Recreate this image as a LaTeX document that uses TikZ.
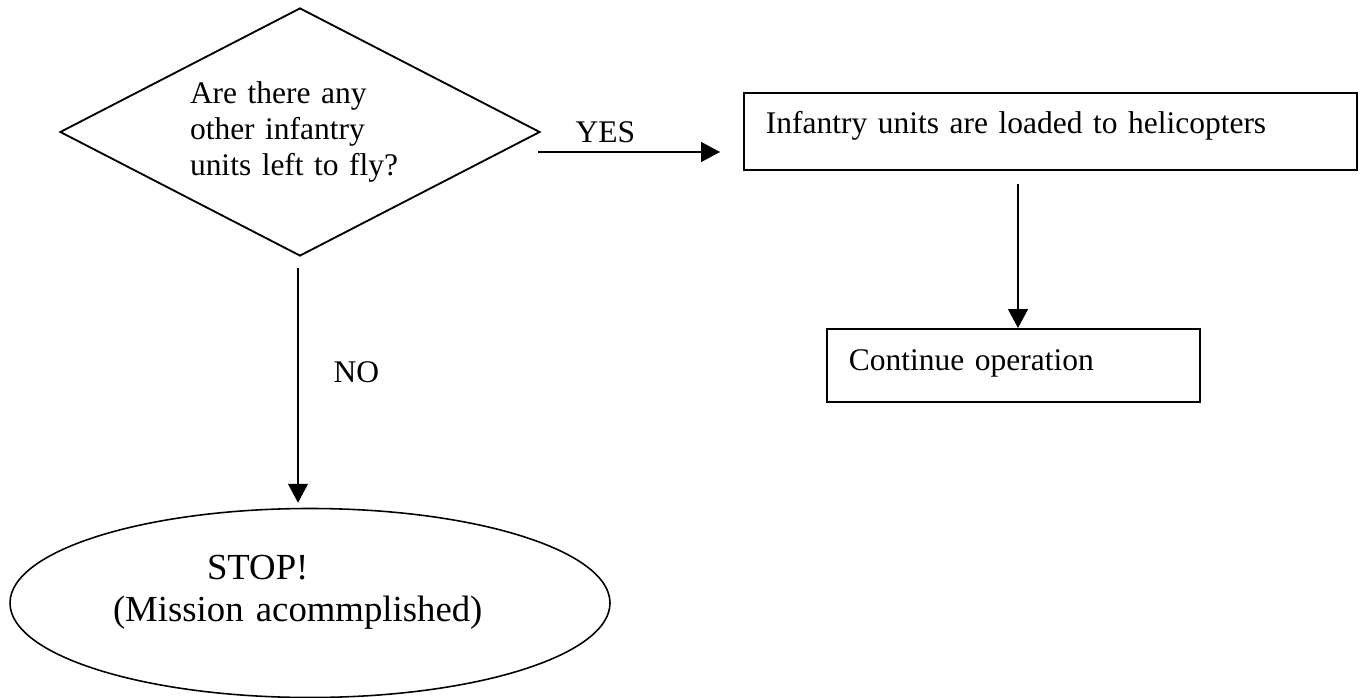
\documentclass[tikz,border=0pt]{standalone}
\usepackage{fontspec}
\setmainfont{Liberation Serif}
\usetikzlibrary{shapes.geometric,arrows.meta,calc}
% one drawing unit
\newdimen\pxu \pxu=0.381pt
\begin{document}
\begin{tikzpicture}[x=0.381pt,y=-0.381pt,
  every node/.style={font=\fontsize{12}{13.7}\selectfont},
  outline/.style={draw, line width=0.7pt},
  decision/.style={outline, diamond, aspect=1.935, minimum width=480\pxu,
    minimum height=248\pxu, inner sep=0pt, align=left, text width=220\pxu},
  actionbox/.style={outline, rectangle, inner ysep=0pt, inner xsep=22\pxu,
    align=left, anchor=north west},
  terminal/.style={draw, line width=0.6pt, ellipse, minimum width=600\pxu,
    minimum height=189\pxu, inner sep=0pt, align=left, text width=394\pxu,
    font=\fontsize{14}{16}\selectfont},
  flow/.style={line width=0.45pt, -{Triangle[length=7.2pt,width=7.6pt]}},
  tag/.style={anchor=base west, inner sep=0pt}
]
\useasboundingbox (0,0) rectangle (1362,698);

% decision
\node[decision] (dec) at (300,132)
  {Are there any\\ other infantry\\ units left to fly?};

% actions
\node[actionbox, text width=569\pxu, text height=41\pxu, text depth=36\pxu]
  (load) at (743,92) {Infantry units are loaded to helicopters};
\node[actionbox, text width=329\pxu, text height=42\pxu, text depth=31\pxu]
  (cont) at (826,328) {Continue operation};

% end of the flow
\node[terminal] (stop) at (310,603)
  {\hspace*{94\pxu}STOP!\\ (Mission acommplished)\rule[-30\pxu]{0pt}{0pt}};

% connectors
\coordinate (yA) at (538,152);
\draw[flow, shorten >=23\pxu] (yA) -- (yA -| load.west);
\node[tag] (yes) at (575,143) {YES};

\coordinate (dA) at (1018,184);
\draw[flow] (dA) -- (dA |- cont.north);

\coordinate (nA) at (298,268);
\draw[flow, shorten >=5\pxu] (nA) -- (nA |- stop.north);
\node[tag] (no) at (333,383) {NO};
\end{tikzpicture}
\end{document}
